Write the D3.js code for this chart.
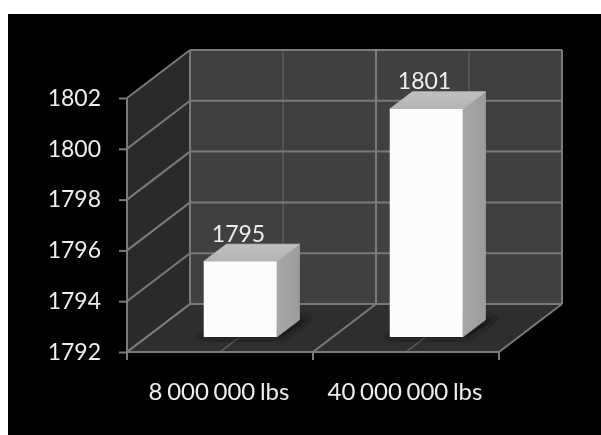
<!DOCTYPE html>
<html><head><meta charset="utf-8">
<script src="https://cdnjs.cloudflare.com/ajax/libs/d3/7.8.5/d3.min.js"></script>
<style>html,body{margin:0;padding:0;background:#fff}svg{display:block}text{font-family:Lato,sans-serif}</style>
</head><body><svg id="c" width="601" height="435"></svg>
<script>
const categories = ["8 000 000 lbs", "40 000 000 lbs"];
const values = [1795, 1801];
const yTicks = [1792, 1794, 1796, 1798, 1800, 1802];

const svg = d3.select("#c");
const defs = svg.append("defs");
defs.append("filter").attr("id","soft").attr("x","-5%").attr("y","-5%").attr("width","110%").attr("height","110%")
  .append("feGaussianBlur").attr("stdDeviation",0.6);
defs.append("filter").attr("id","shadow").attr("x","-30%").attr("y","-30%").attr("width","160%").attr("height","160%")
  .append("feGaussianBlur").attr("stdDeviation",3);
const sideGrad = defs.append("linearGradient").attr("id","side").attr("x1",0).attr("x2",1).attr("y1",0).attr("y2",0);
sideGrad.append("stop").attr("offset",0).attr("stop-color","#a8a8a8");
sideGrad.append("stop").attr("offset",1).attr("stop-color","#9c9c9c");
const topGrad = defs.append("linearGradient").attr("id","top").attr("x1",0).attr("x2",0).attr("y1",1).attr("y2",0);
topGrad.append("stop").attr("offset",0).attr("stop-color","#b4b4b4");
topGrad.append("stop").attr("offset",1).attr("stop-color","#c0c0c0");

svg.append("rect").attr("x",8).attr("y",14).attr("width",593).attr("height",421).attr("fill","#000");

const g = svg.append("g").attr("filter","url(#soft)");

const y = d3.scaleLinear().domain([1792,1802]).range([352,98]);
const x = d3.scaleBand().domain(categories).range([127,499]).padding(0);
const dx = d3.scaleLinear().domain([0,1]).range([0,63]);
const dy = d3.scaleLinear().domain([0,1]).range([0,-48]);
const P = (px,py,d) => [px+dx(d), py+dy(d)];
const poly = pts => "M"+pts.map(p=>p.join(",")).join("L")+"Z";
const xL = x.range()[0], xR = x.range()[1], bw = x.bandwidth();
const yB = y.range()[0], yT = y.range()[1];
const GRID = "#7a7a7a";
const LW = 2;

// walls + floor
g.append("path").attr("d",poly([P(xL,yT,1),P(xR,yT,1),P(xR,yB,1),P(xL,yB,1)])).attr("fill","#404040");
g.append("path").attr("d",poly([P(xL,yT,0),P(xL,yT,1),P(xL,yB,1),P(xL,yB,0)])).attr("fill","#2b2b2b");
g.append("path").attr("d",poly([P(xL,yB,0),P(xL,yB,1),P(xR,yB,1),P(xR,yB,0)])).attr("fill","#2f2f2f");

const line = (a,b,w,c) => g.append("line").attr("x1",a[0]).attr("y1",a[1]).attr("x2",b[0]).attr("y2",b[1])
  .attr("stroke",c||GRID).attr("stroke-width",w);

// category gridlines (thin) first
categories.forEach(c=>{
  const m = x(c)+bw/2;
  line(P(m,yB,1),P(m,yT,1),1.2,"#626262");
  line(P(m,yB,0),P(m,yB,1),1.2,"#666666");
});
// value gridlines
yTicks.forEach(t=>{
  line(P(xL,y(t),0),P(xL,y(t),1),LW);
  line(P(xL,y(t),1),P(xR,y(t),1),LW);
});
const edges = [xL, xL+bw, xR];
edges.forEach(e=>{
  line(P(e,yB,1),P(e,yT,1),LW);
  line(P(e,yB,0),P(e,yB,1),LW);
});

// axes
const axisL = d3.axisLeft(y).tickValues(yTicks).tickSize(8).tickPadding(18).tickFormat(d3.format("d"));
const ay = g.append("g").attr("transform",`translate(${xL},0)`).call(axisL);
ay.select(".domain").attr("d",`M0,${yT}V${yB+8}`).attr("stroke",GRID).attr("stroke-width",LW);
ay.selectAll(".tick line").attr("stroke",GRID).attr("stroke-width",LW);
ay.selectAll("text").attr("font-size",23).attr("font-family","Lato").attr("fill","#eeeeee");

const axisB = d3.axisBottom(x).tickSize(0).tickPadding(31);
const ax = g.append("g").attr("transform",`translate(0,${yB})`).call(axisB);
ax.select(".domain").attr("d",`M${xL},0H${xR}`).attr("stroke",GRID).attr("stroke-width",LW);
ax.selectAll("text").attr("font-size",24).attr("font-family","Lato").attr("fill","#eeeeee").attr("word-spacing","-1.5px").attr("dx",-1);
edges.forEach(e=>line([e,yB],[e,yB+8],LW));

// bars
const d0 = 0.31, d1 = 0.67, barW = 73;
const bars = g.selectAll(".bar").data(categories.map((c,i)=>({c,v:values[i]}))).join("g").attr("class","bar");
bars.each(function(d){
  const b = d3.select(this);
  const xa = x(d.c)+bw/2-barW/2+0.7, xb = xa+barW;
  const top = y(d.v)+0.6, bot = yB;
  b.append("path").attr("d",poly([P(xa-6,bot,d0-0.02),P(xb+6,bot,d0-0.02),P(xb+9,bot,d1+0.05),P(xa+16,bot,d1+0.05)]))
    .attr("fill","#141414").attr("filter","url(#shadow)");
  b.append("path").attr("d",poly([P(xb,top,d0),P(xb,top,d1),P(xb,bot,d1),P(xb,bot,d0)])).attr("fill","url(#side)")
    .attr("stroke","#a2a2a2").attr("stroke-width",0.8).attr("stroke-linejoin","round");
  b.append("path").attr("d",poly([P(xa,top,d0),P(xa,top,d1),P(xb,top,d1),P(xb,top,d0)])).attr("fill","url(#top)")
    .attr("stroke","#b8b8b8").attr("stroke-width",1).attr("stroke-linejoin","round");
  b.append("path").attr("d",poly([P(xa,top,d0),P(xb,top,d0),P(xb,bot,d0),P(xa,bot,d0)])).attr("fill","#fcfcfc");
  b.append("text").attr("x",(xa+xb)/2-1.7+dx(d0)).attr("y",P(xa,top,d1)[1]-2.5).attr("text-anchor","middle")
    .attr("font-size",23).attr("fill","#eeeeee").text(d.v);
});
</script></body></html>
